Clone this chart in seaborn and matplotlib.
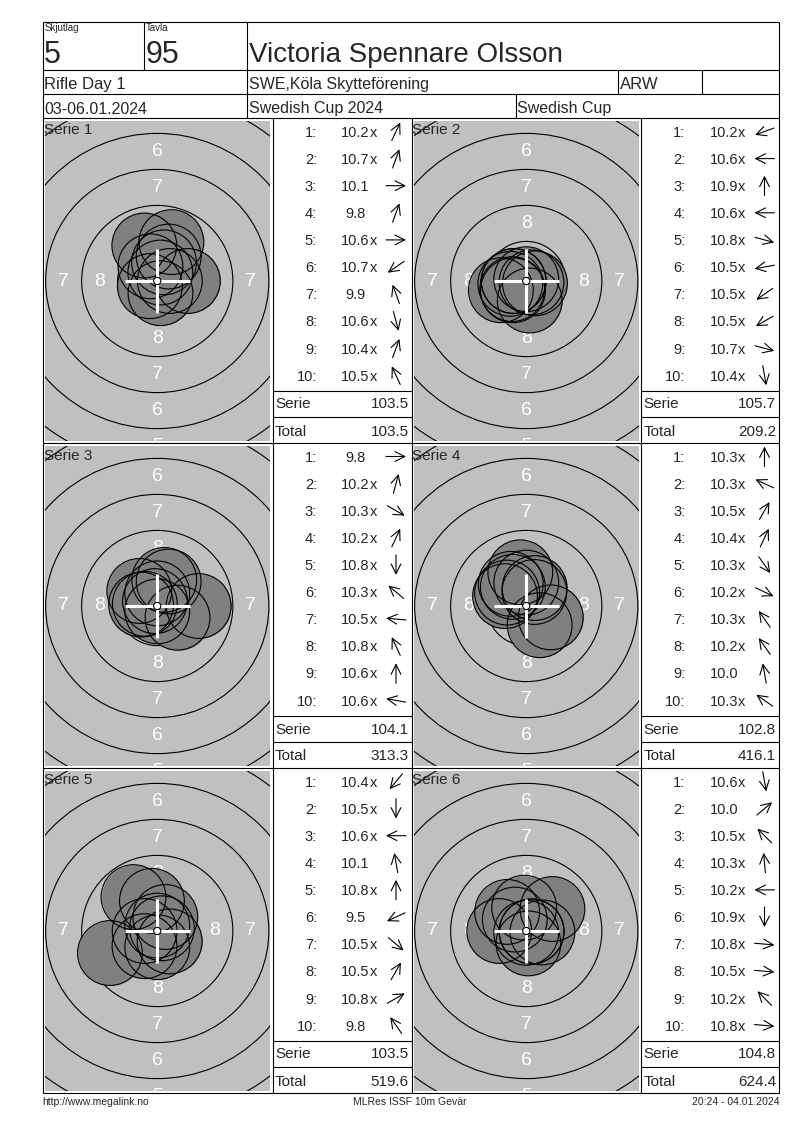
import numpy as np
import pandas as pd
import matplotlib
matplotlib.use('Agg')
import matplotlib.pyplot as plt
from matplotlib.patches import Circle
import seaborn as sns


# header
squad = '5'
lane = '95'
shooter = 'Victoria Spennare Olsson'
event_day = 'Rifle Day 1'
club = 'SWE,Köla Skytteförening'
shooter_class = 'ARW'
dates = '03-06.01.2024'
competition = 'Swedish Cup 2024'
cup = 'Swedish Cup'

footer_left = 'http://www.megalink.no'
footer_mid = 'MLRes ISSF 10m Gevär'
footer_right = '20:24 - 04.01.2024'

# shots per serie (score text) and direction of the arrow, degrees (0 = right, 90 = up)
serie1_shots = ['10.2x', '10.7x', '10.1', '9.8', '10.6x', '10.7x', '9.9', '10.6x', '10.4x', '10.5x']
serie1_dirs = [65, 70, 0, 70, 0, 215, 110, 285, 70, 115]
serie2_shots = ['10.2x', '10.6x', '10.9x', '10.6x', '10.8x', '10.5x', '10.5x', '10.5x', '10.7x', '10.4x']
serie2_dirs = [200, 180, 90, 180, 345, 190, 215, 210, 345, 280]
serie3_shots = ['9.8', '10.2x', '10.3x', '10.2x', '10.8x', '10.3x', '10.5x', '10.8x', '10.6x', '10.6x']
serie3_dirs = [0, 75, 330, 65, 270, 140, 175, 115, 90, 170]
serie4_shots = ['10.3x', '10.3x', '10.5x', '10.4x', '10.3x', '10.2x', '10.3x', '10.2x', '10.0', '10.3x']
serie4_dirs = [90, 155, 60, 65, 305, 335, 125, 125, 100, 145]
serie5_shots = ['10.4x', '10.5x', '10.6x', '10.1', '10.8x', '9.5', '10.5x', '10.5x', '10.8x', '9.8']
serie5_dirs = [230, 270, 180, 100, 90, 205, 320, 60, 30, 125]
serie6_shots = ['10.6x', '10.0', '10.5x', '10.3x', '10.2x', '10.9x', '10.8x', '10.5x', '10.2x', '10.8x']
serie6_dirs = [280, 40, 135, 95, 180, 270, 355, 355, 135, 355]

serie_names = ['Serie 1', 'Serie 2', 'Serie 3', 'Serie 4', 'Serie 5', 'Serie 6']
serie_sums = ['103.5', '105.7', '104.1', '102.8', '103.5', '104.8']
running_totals = ['103.5', '209.2', '313.3', '416.1', '519.6', '624.4']

ring_radii = [2.75, 5.25, 7.75, 10.25, 12.75, 15.25]   # mm, rings 9..4
ring_labels = ['8', '7', '6', '5']
label_radii = [4.0, 6.5, 9.0, 11.5]

all_shots = [serie1_shots, serie2_shots, serie3_shots, serie4_shots, serie5_shots, serie6_shots]
all_dirs = [serie1_dirs, serie2_dirs, serie3_dirs, serie4_dirs, serie5_dirs, serie6_dirs]

PX_MM = 14.4
W, H = 800, 1130

sns.set_theme(style='white')
plt.rcParams['font.family'] = ['Liberation Sans', 'DejaVu Sans']

fig = plt.figure(figsize=(8, 11.3), dpi=100)
ax = fig.add_axes([0, 0, 1, 1])
ax.set_xlim(0, W)
ax.set_ylim(H, 0)
ax.axis('off')
ax.set_zorder(5)

LW = 0.8


def hline(y, x0, x1):
    ax.plot([x0, x1], [y, y], color='black', lw=LW, solid_capstyle='butt')


def vline(x, y0, y1):
    ax.plot([x, x], [y0, y1], color='black', lw=LW, solid_capstyle='butt')


# frame and header grid
L, R, TOP, BOT = 42.5, 779, 21.5, 1093
for y in [TOP, 69.7, 94, 118, 443, 768, BOT]:
    hline(y, L, R)
vline(L, TOP, BOT)
vline(R, TOP, BOT)
vline(144.3, TOP, 69.7)
vline(246.7, TOP, 118)
vline(618, 69.7, 94)
vline(702, 69.7, 94)
vline(515.5, 94, 118)
for x in [272.5, 411.5, 641]:
    vline(x, 118, BOT)

ax.text(44.5, 31, 'Skjutlag', fontsize=7, va='baseline')
ax.text(146, 31, 'Tavla', fontsize=7, va='baseline')
ax.text(43.5, 63, squad, fontsize=22, va='baseline')
ax.text(145.5, 63, lane, fontsize=22, va='baseline')
ax.text(249, 62.5, shooter, fontsize=20, va='baseline')
ax.text(44.5, 89, event_day, fontsize=12, va='baseline')
ax.text(249, 89, club, fontsize=11.5, va='baseline')
ax.text(620, 89, shooter_class, fontsize=12, va='baseline')
ax.text(44.5, 113.5, dates, fontsize=11.5, va='baseline')
ax.text(249, 113.5, competition, fontsize=11.5, va='baseline')
ax.text(517, 113.5, cup, fontsize=11.5, va='baseline')

ax.text(42.5, 1102, footer_left, fontsize=7.5, va='center', ha='left')
ax.text(410, 1102, footer_mid, fontsize=7.5, va='center', ha='center')
ax.text(779, 1102, footer_right, fontsize=7.5, va='center', ha='right')

row_tops = [118, 443, 768]
target_lefts = [45, 414]
target_w = 224.5
target_h = 319.4
list_lefts = [272.5, 641]
list_rights = [411.5, 779]


def draw_target(x0, y0, w, h, shots, dirs):
    tax = fig.add_axes([x0 / W, 1 - (y0 + h) / H, w / W, h / H])
    tax.set_zorder(1)
    df = pd.DataFrame({'label': shots, 'angle': dirs})
    df['score'] = df['label'].str.rstrip('x').astype(float)
    df['dist'] = (10.95 - df['score']) * 2.5
    df['x'] = df['dist'] * np.cos(np.radians(df['angle']))
    df['y'] = df['dist'] * np.sin(np.radians(df['angle']))

    hw = w / 2 / PX_MM
    hh = h / 2 / PX_MM

    for r in ring_radii:
        tax.add_patch(Circle((0, 0), r, fill=False, ec='black', lw=LW, zorder=1))
    for lab, r in zip(ring_labels, label_radii):
        for dx, dy in [(0, 1), (0, -1), (-1, 0), (1, 0)]:
            # labels outside the visible window are skipped
            if abs(dx * r) > hw - 0.3 or abs(dy * r) > hh + 0.6:
                continue
            tax.text(dx * r, dy * r, lab, color='white', fontsize=14,
                     ha='center', va='center', zorder=2, clip_on=True)

    msize = (2 * 2.25 * PX_MM * 72 / 100) ** 2
    sns.scatterplot(data=df, x='x', y='y', s=msize, color='#808080',
                    linewidth=0, ax=tax, legend=False, zorder=3)
    tax.scatter(df['x'], df['y'], s=msize, facecolors='none',
                edgecolors='black', linewidths=LW, zorder=4)

    tax.plot([-2.25, 2.25], [0, 0], color='white', lw=2.2, zorder=5, solid_capstyle='butt')
    tax.plot([0, 0], [-2.25, 2.25], color='white', lw=2.2, zorder=5, solid_capstyle='butt')
    tax.add_patch(Circle((0, 0), 0.25, fc='white', ec='black', lw=LW, zorder=6))

    tax.set_xlim(-hw, hw)
    tax.set_ylim(-hh, hh)
    tax.set_facecolor('#C0C0C0')
    tax.set_xticks([])
    tax.set_yticks([])
    tax.set_xlabel('')
    tax.set_ylabel('')
    for sp in tax.spines.values():
        sp.set_visible(False)


def draw_arrow(cx, cy, ang):
    dx = 10 * np.cos(np.radians(ang))
    dy = -10 * np.sin(np.radians(ang))
    ax.annotate('', xy=(cx + dx, cy + dy), xytext=(cx - dx, cy - dy),
                arrowprops=dict(arrowstyle='->,head_length=0.5,head_width=0.25',
                                color='black', lw=0.8,
                                shrinkA=0, shrinkB=0, mutation_scale=14))


for k in range(6):
    row, col = divmod(k, 2)
    T = row_tops[row]
    draw_target(target_lefts[col], T + 3.3, target_w, target_h, all_shots[k], all_dirs[k])
    ax.text(target_lefts[col] - 1.5, T + 16.5, serie_names[k], fontsize=11, va='baseline')

    ll = list_lefts[col]
    lr = list_rights[col]
    for i, (lab, ang) in enumerate(zip(all_shots[k], all_dirs[k])):
        cy = T + 13.5 + i * 27.1
        base = cy + 5.2
        ax.text(ll + 44.5, base, f'{i + 1}:', fontsize=10.5, ha='right', va='baseline')
        num = lab.rstrip('x')
        ax.text(ll + 83, base, num, fontsize=10.5, ha='center', va='baseline')
        if lab.endswith('x'):
            ax.text(ll + 97, base, 'x', fontsize=10.5, ha='left', va='baseline')
        draw_arrow(ll + 123.5, cy, ang)

    hline(T + 272.5, ll, lr)
    hline(T + 299, ll, lr)
    ax.text(ll + 2.5, T + 290.5, 'Serie', fontsize=11, va='baseline')
    ax.text(lr - 3, T + 290.5, serie_sums[k], fontsize=11, ha='right', va='baseline')
    ax.text(ll + 2.5, T + 317.5, 'Total', fontsize=11, va='baseline')
    ax.text(lr - 3, T + 317.5, running_totals[k], fontsize=11, ha='right', va='baseline')

fig.savefig('out.png', dpi=100, facecolor='white')
